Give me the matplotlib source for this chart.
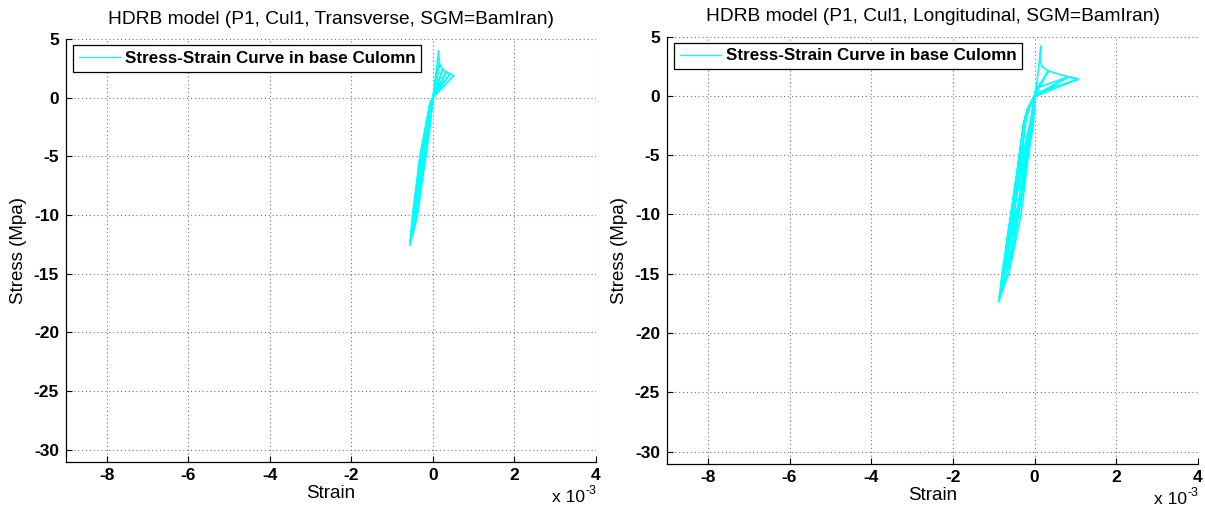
import numpy as np
import matplotlib
matplotlib.use("Agg")
import matplotlib.pyplot as plt
from matplotlib.ticker import FuncFormatter

plt.rcParams["font.family"] = ["Liberation Sans", "DejaVu Sans"]
plt.rcParams["axes.unicode_minus"] = False

# Hysteresis path of the base column, transverse direction (strain, stress in MPa)
strain_transverse = [
    0.0,
    -0.05e-3, -0.20e-3, -0.10e-3, 0.0,
    0.14e-3, 0.16e-3, 0.0,
    -0.06e-3, -0.28e-3, -0.38e-3, -0.22e-3, -0.09e-3, 0.0,
    0.16e-3, 0.24e-3, 0.0,
    -0.08e-3, -0.32e-3, -0.50e-3, -0.57e-3, -0.38e-3, -0.18e-3, -0.03e-3, 0.0,
    0.24e-3, 0.33e-3, 0.0,
    -0.07e-3, -0.30e-3, -0.46e-3, -0.53e-3, -0.40e-3, -0.22e-3, -0.05e-3, 0.0,
    -0.06e-3, -0.29e-3, -0.47e-3, -0.55e-3, -0.45e-3, -0.28e-3, -0.10e-3, 0.0,
    0.33e-3, 0.42e-3, 0.0,
    -0.06e-3, -0.27e-3, -0.43e-3, -0.32e-3, -0.15e-3, -0.02e-3, 0.0,
    -0.07e-3, -0.31e-3, -0.48e-3, -0.42e-3, -0.25e-3, -0.08e-3, 0.0,
    0.42e-3, 0.51e-3, 0.0,
    -0.05e-3, -0.26e-3, -0.44e-3, -0.50e-3, -0.41e-3, -0.21e-3, -0.04e-3, 0.0,
    -0.05e-3, -0.24e-3, -0.36e-3, -0.25e-3, -0.12e-3, 0.0,
]
stress_transverse = [
    0.0,
    -0.4, -3.2, -2.4, 0.0,
    4.0, 2.9, 0.0,
    -0.5, -5.0, -7.5, -6.0, -3.0, 0.0,
    2.9, 2.4, 0.0,
    -0.6, -5.0, -10.0, -12.6, -10.0, -5.0, -0.8, 0.0,
    2.4, 2.2, 0.0,
    -0.5, -5.0, -9.5, -11.8, -10.2, -5.6, -1.0, 0.0,
    -0.5, -5.0, -10.0, -12.2, -11.0, -7.0, -2.4, 0.0,
    2.2, 2.03, 0.0,
    -0.4, -4.8, -9.0, -8.0, -4.0, -0.6, 0.0,
    -0.6, -5.0, -10.0, -10.2, -6.0, -1.8, 0.0,
    2.03, 1.86, 0.0,
    -0.4, -5.0, -10.0, -11.3, -10.0, -5.0, -0.9, 0.0,
    -0.3, -4.2, -7.0, -5.8, -3.2, 0.0,
]

# Hysteresis path of the base column, longitudinal direction (strain, stress in MPa)
strain_longitudinal = [
    0.0,
    -0.15e-3, -0.25e-3, -0.36e-3, -0.42e-3, -0.30e-3, -0.12e-3, -0.02e-3, 0.0,
    0.06e-3, 0.155e-3, 0.14e-3, 0.18e-3, 0.34e-3, 0.05e-3, 0.0,
    -0.17e-3, -0.26e-3, -0.36e-3, -0.57e-3, -0.46e-3, -0.25e-3, -0.06e-3, 0.0,
    -0.12e-3, -0.21e-3, -0.28e-3, -0.42e-3, -0.34e-3, -0.18e-3, -0.04e-3, 0.0,
    0.34e-3, 0.58e-3, 0.83e-3, 0.08e-3, 0.0,
    -0.18e-3, -0.27e-3, -0.37e-3, -0.58e-3, -0.71e-3, -0.55e-3, -0.38e-3, -0.19e-3, -0.05e-3, 0.0,
    -0.14e-3, -0.24e-3, -0.32e-3, -0.50e-3, -0.70e-3, -0.58e-3, -0.40e-3, -0.20e-3, -0.06e-3, 0.0,
    0.83e-3, 1.07e-3, 0.02e-3, 0.0,
    -0.18e-3, -0.27e-3, -0.37e-3, -0.58e-3, -0.80e-3, -0.88e-3, -0.75e-3, -0.63e-3, -0.33e-3, -0.15e-3, -0.03e-3, 0.0,
    -0.17e-3, -0.26e-3, -0.35e-3, -0.54e-3, -0.74e-3, -0.84e-3, -0.70e-3, -0.50e-3, -0.30e-3, -0.13e-3, -0.02e-3, 0.0,
    0.83e-3, 1.05e-3, -0.02e-3,
    -0.16e-3, -0.26e-3, -0.34e-3, -0.55e-3, -0.76e-3, -0.62e-3, -0.45e-3, -0.26e-3, -0.10e-3, 0.0,
    -0.16e-3, -0.27e-3, -0.36e-3, -0.56e-3, -0.78e-3, -0.86e-3, -0.69e-3, -0.37e-3, -0.20e-3, -0.08e-3, 0.0,
    -0.12e-3, -0.22e-3, -0.30e-3, -0.48e-3, -0.62e-3, -0.48e-3, -0.28e-3, -0.12e-3, -0.02e-3, 0.0,
]
stress_longitudinal = [
    0.0,
    -1.0, -2.1, -4.6, -6.5, -5.2, -2.4, -0.5, 0.0,
    1.2, 4.2, 3.0, 2.45, 2.1, 0.6, 0.0,
    -1.1, -2.3, -5.0, -10.0, -8.8, -5.0, -1.8, 0.0,
    -0.8, -2.0, -4.0, -8.0, -7.6, -4.2, -1.0, 0.0,
    2.1, 1.83, 1.6, 0.7, 0.0,
    -1.2, -2.4, -5.0, -10.0, -13.0, -11.5, -8.8, -5.0, -2.0, 0.0,
    -0.9, -2.2, -5.0, -10.0, -14.5, -13.6, -10.0, -5.5, -2.2, 0.0,
    1.6, 1.39, 0.2, 0.0,
    -1.2, -2.3, -5.0, -10.0, -15.0, -17.4, -16.0, -15.0, -10.0, -5.0, -2.3, 0.0,
    -1.15, -2.3, -5.0, -10.0, -15.0, -16.8, -15.4, -12.0, -8.0, -4.0, -1.2, 0.0,
    1.6, 1.40, -0.1,
    -1.0, -2.2, -4.6, -10.0, -15.2, -13.8, -11.0, -7.0, -3.5, 0.0,
    -1.1, -2.4, -5.2, -10.5, -16.0, -17.0, -14.0, -9.0, -5.2, -2.6, 0.0,
    -0.8, -2.0, -4.0, -9.0, -12.0, -10.5, -7.2, -4.0, -1.2, 0.0,
]

titles = [
    "HDRB model (P1, Cul1, Transverse, SGM=BamIran)",
    "HDRB model (P1, Cul1, Longitudinal, SGM=BamIran)",
]
legend_label = "Stress-Strain Curve in base Culomn"
x_ticks = [-8e-3, -6e-3, -4e-3, -2e-3, 0.0, 2e-3, 4e-3]
y_ticks = [5, 0, -5, -10, -15, -20, -25, -30]

W, H = 1205, 513
fig = plt.figure(figsize=(W / 100, H / 100), dpi=100)

# axes boxes in pixels: left, top, right, bottom
boxes = [(66, 39, 596, 461.5), (667, 36.5, 1198, 463.5)]
series = [
    (strain_transverse, stress_transverse),
    (strain_longitudinal, stress_longitudinal),
]

for (l, t, r, b), (sx, sy), title in zip(boxes, series, titles):
    aw, ah = r - l, b - t
    ax = fig.add_axes([l / W, 1 - b / H, aw / W, ah / H])
    ax.plot(sx, sy, color=(0, 1, 1), lw=1.2, label=legend_label)
    ax.set_xlim(-9e-3, 4e-3)
    ax.set_ylim(-31, 5)
    ax.set_xticks(x_ticks)
    ax.set_yticks(y_ticks)
    ax.xaxis.set_major_formatter(FuncFormatter(lambda v, p: f"{v * 1e3:g}"))
    ax.tick_params(direction="in", length=4, width=0.8, top=False, right=False,
                   labelsize=12.5, pad=5)
    for lab in ax.get_xticklabels() + ax.get_yticklabels():
        lab.set_fontweight("bold")
    for side in ("top", "right"):
        ax.spines[side].set_visible(False)
    for side in ("left", "bottom"):
        ax.spines[side].set_linewidth(0.9)
    ax.grid(True, color="0.45", linestyle=(0, (1, 2.5)), linewidth=0.8)
    ax.set_axisbelow(True)

    ax.set_title(title, fontsize=13.8, pad=11)
    ax.set_xlabel("Strain", fontsize=13.5, labelpad=1)
    ax.set_ylabel("Stress (Mpa)", fontsize=13.5)
    ax.yaxis.set_label_coords(-0.074, 0.5)

    # exponent note under the right end of the strain axis
    ax.text(1.0 - 11 / aw, -41 / ah, "x 10", transform=ax.transAxes,
            ha="right", va="baseline", fontsize=12.5)
    ax.text(1.0 - 10 / aw, -33 / ah, "-3", transform=ax.transAxes,
            ha="left", va="baseline", fontsize=9)

    leg = ax.legend(loc="upper left", bbox_to_anchor=(7 / aw, 1 - 6 / ah),
                    borderaxespad=0, fancybox=False, framealpha=1,
                    edgecolor="black", handlelength=2.4, handletextpad=0.3,
                    borderpad=0.35, prop={"size": 12.25, "weight": "bold"})
    leg.get_frame().set_linewidth(0.9)
    leg.get_lines()[0].set_linewidth(0.9)

fig.savefig("out.png", dpi=100)
